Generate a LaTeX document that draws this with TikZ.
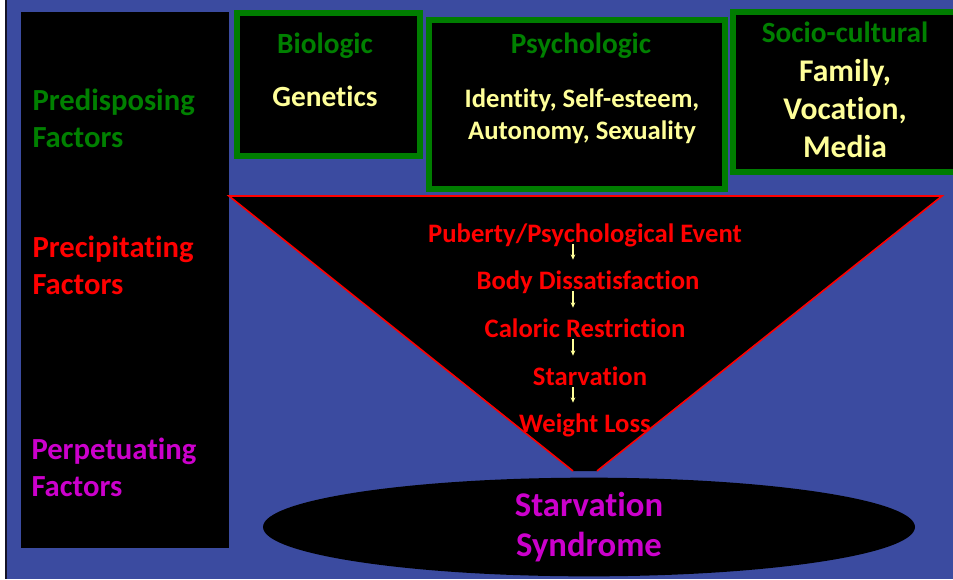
\documentclass[tikz,border=0pt]{standalone}
\usepackage{fontspec}
\setmainfont{Carlito}[Ligatures=NoCommon]
\usetikzlibrary{arrows.meta,shapes.geometric}

\definecolor{slideblue}{RGB}{59,75,160}
\definecolor{boxgreen}{RGB}{0,125,0}
\definecolor{textgreen}{RGB}{0,128,0}
\definecolor{textyellow}{RGB}{255,255,153}
\definecolor{textpurple}{RGB}{204,0,204}

\tikzset{every picture/.style={line width=0.75pt}}
\tikzset{
  factor/.style={anchor=base west,inner sep=0.75pt,align=left,
    font=\bfseries\fontsize{23}{27.75}\selectfont},
  groupbox/.style={draw=boxgreen,fill=black,line width=4.5pt},
  grouphead/.style={anchor=base,inner sep=0.75pt,text=textgreen,
    font=\bfseries\fontsize{22}{27}\selectfont},
  groupitem/.style={anchor=base,inner sep=0.75pt,align=center,text=textyellow},
  chain/.style={anchor=base,inner sep=0.75pt,text=red,
    font=\bfseries\fontsize{20}{24}\selectfont},
  chainarrow/.style={draw=textyellow,line width=1pt,-{Stealth[length=4pt,width=3.5pt]},
    shorten <=1.5pt,shorten >=22pt},
}

\begin{document}
\begin{tikzpicture}[x=0.75pt,y=0.75pt,yscale=-1,xscale=1]
\useasboundingbox (0,0) rectangle (953,579);
\clip (0,0) rectangle (953,579);

%Shape: Rectangle [background]
\fill [white] (0,0) rectangle (953,579);
\fill [slideblue] (6,0) rectangle (953,579);
\draw [line width=1.5, color={rgb, 255:red, 20; green, 20; blue, 40 }] (6,0) -- (6,579);

%Shape: Rectangle [left column]
\fill [black] (21,12) rectangle (229,548);

%Shape: Rectangle [biologic]
\draw [groupbox] (237,13) rectangle (420,156);
%Shape: Rectangle [psychologic]
\draw [groupbox] (429,20) rectangle (725,189);
%Shape: Rectangle [socio-cultural]
\draw [groupbox] (733,12) rectangle (965,172);

%Shape: Triangle [funnel]
\fill [black] (229,196) -- (942,196) -- (597,471) -- (573,471) -- cycle;
\draw [red, line width=1.2] (573,471) -- (229,196) -- (942,196) -- (597,471);

%Shape: Ellipse
\node [ellipse, fill=black, inner sep=0pt, minimum width=489pt, minimum height=73.5pt,
  align=center, text=textpurple, font=\bfseries\fontsize{26}{30}\selectfont]
  (syndrome) at (589,527) {Starvation\\Syndrome};

% Text Node
\node [factor, text=textgreen] (predisposing) at (31,147) {Predisposing\\Factors};
% Text Node
\node [factor, text=red] (precipitating) at (31,294) {Precipitating\\Factors};
% Text Node
\node [factor, text=textpurple] (perpetuating) at (30,496) {Perpetuating\\Factors};

% Text Node
\node [grouphead] (biologic) at (325,53) {Biologic};
\node [groupitem, font=\bfseries\fontsize{22}{27}\selectfont] (genetics) at (325,106) {Genetics};
% Text Node
\node [grouphead] (psychologic) at (581,53) {Psychologic};
\node [groupitem, font=\bfseries\fontsize{20}{24}\selectfont] (identity) at (582,139)
  {Identity, Self-esteem,\\Autonomy, Sexuality};
% Text Node
\node [grouphead] (sociocultural) at (845,42) {Socio-cultural};
\node [groupitem, font=\bfseries\fontsize{23.7}{28.5}\selectfont] (family) at (845,157)
  {Family,\\Vocation,\\Media};

% Text Node
\node [chain] (puberty) at (585,242) {Puberty/Psychological Event};
\node [chain] (body) at (588,289) {Body Dissatisfaction};
\node [chain] (caloric) at (585,337) {Caloric Restriction};
\node [chain] (starvation) at (590,385) {Starvation};
\node [chain] (weightloss) at (585,432) {Weight Loss};

%Straight Lines
\coordinate (arrowx) at (573,0);
\draw [chainarrow] (puberty.base -| arrowx) -- (body.base -| arrowx);
\draw [chainarrow] (body.base -| arrowx) -- (caloric.base -| arrowx);
\draw [chainarrow] (caloric.base -| arrowx) -- (starvation.base -| arrowx);
\draw [chainarrow] (starvation.base -| arrowx) -- (weightloss.base -| arrowx);

\end{tikzpicture}
\end{document}
